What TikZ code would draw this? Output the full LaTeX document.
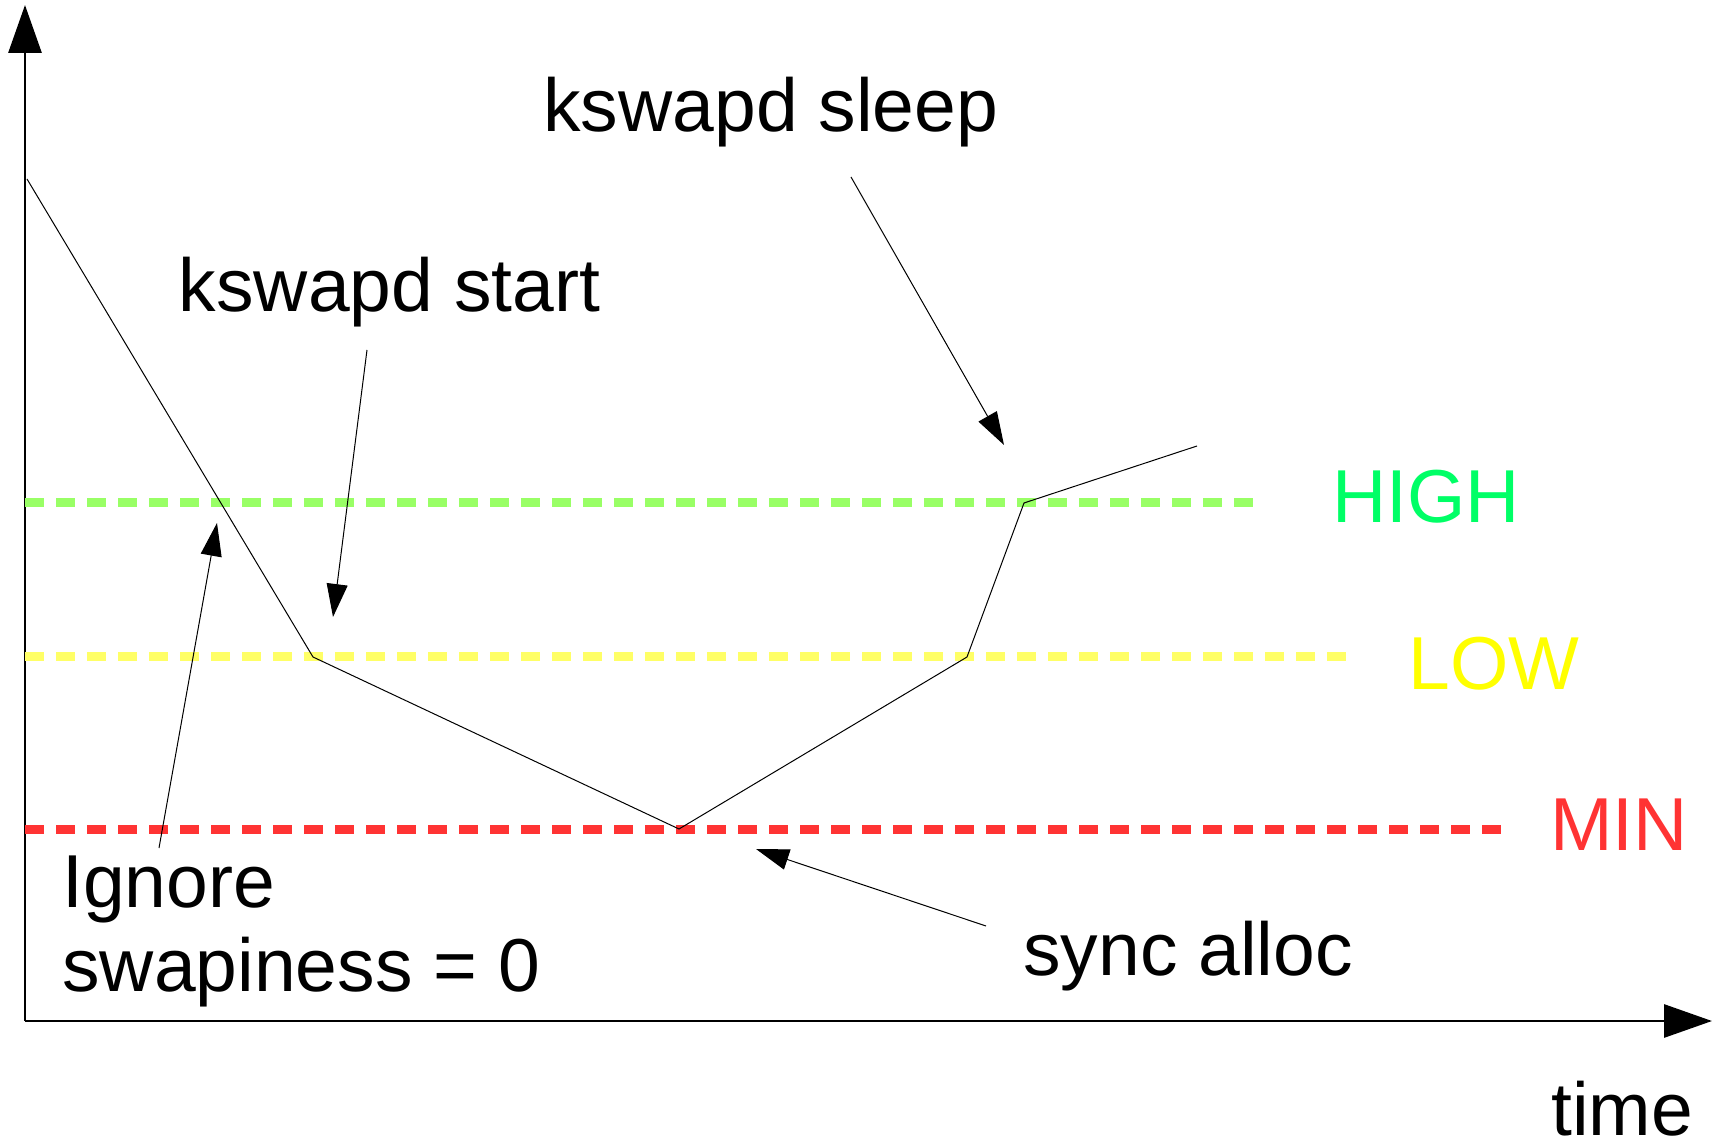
\documentclass[tikz,border=0pt]{standalone}
\usepackage{fontspec}
\setmainfont{Liberation Sans}
\usetikzlibrary{arrows.meta}
\definecolor{highline}{HTML}{99FF66}
\definecolor{hightext}{HTML}{00FF66}
\definecolor{lowline}{HTML}{FFFF66}
\definecolor{lowtext}{HTML}{FFFF00}
\definecolor{minred}{HTML}{FF3333}
\begin{document}
\begin{tikzpicture}[
  lbl/.style={inner sep=0pt, anchor=base west, font=\fontsize{42.7}{47.6}\selectfont},
  level/.style={line width=0.18cm, dash pattern=on 0.38cm off 0.24cm},
  pointer/.style={line width=0.57pt, -{Triangle[length=0.66cm,width=0.42cm]}},
  axis/.style={line width=1.7pt, -{Triangle[length=0.96cm,width=0.66cm]}}]
\useasboundingbox (-0.5,-2.46) rectangle (33.76,20.42);
\def\hi{10.36}
\def\lo{7.28}
\def\mn{3.84}
% axes
\coordinate (O)    at (0,0);
\coordinate (Ytop) at (0,20.32);
\coordinate (Xend) at (33.74,0);
\draw[axis] (O) -- (Ytop);
\draw[axis] (O) -- (Xend);
\node[lbl, text depth=0pt] (time) at (30.52,-2.28) {time};
% watermark levels
\coordinate (H0) at (0,\hi);  \coordinate (H1) at (24.56,\hi);
\coordinate (L0) at (0,\lo);  \coordinate (L1) at (26.52,\lo);
\coordinate (M0) at (0,\mn);  \coordinate (M1) at (29.58,\mn);
\draw[level, highline] (H0) -- (H1);
\draw[level, lowline]  (L0) -- (L1);
\draw[level, minred]   (M0) -- (M1);
\node[lbl, text=hightext] (high) at (26.14,9.96) {HIGH};
\node[lbl, text=lowtext]  (low)  at (27.66,6.62) {LOW};
\node[lbl, text=minred]   (min)  at (30.50,3.42) {MIN};
% free pages over time
\coordinate (P0) at (0.04,16.84);
\coordinate (P1) at (5.76,\lo);
\coordinate (P2) at (13.08,\mn);
\coordinate (P3) at (18.84,\lo);
\coordinate (P4) at (19.98,\hi);
\coordinate (P5) at (23.44,11.50);
\draw[line width=0.57pt] (P0) -- (P1) -- (P2) -- (P3) -- (P4) -- (P5);
% labels and pointers
\node[lbl] (sleep)  at (10.36,17.78) {kswapd sleep};
\node[lbl] (start)  at (3.07,14.18)  {kswapd start};
\node[lbl, align=left] (ignore) at (0.74,0.60) {Ignore\\swapiness = 0};
\node[lbl] (sync)   at (19.96,0.92)  {sync alloc};
\coordinate (sleepA) at (16.52,16.88);  \coordinate (sleepB) at (19.58,11.52);
\coordinate (startA) at (6.84,13.42);   \coordinate (startB) at (6.16,8.08);
\coordinate (ignA)   at (2.68,3.46);    \coordinate (ignB)   at (3.84,9.96);
\coordinate (syncA)  at (19.22,1.90);   \coordinate (syncB)  at (14.62,3.44);
\draw[pointer] (sleepA) -- (sleepB);
\draw[pointer] (startA) -- (startB);
\draw[pointer] (ignA) -- (ignB);
\draw[pointer] (syncA) -- (syncB);
\end{tikzpicture}
\end{document}
